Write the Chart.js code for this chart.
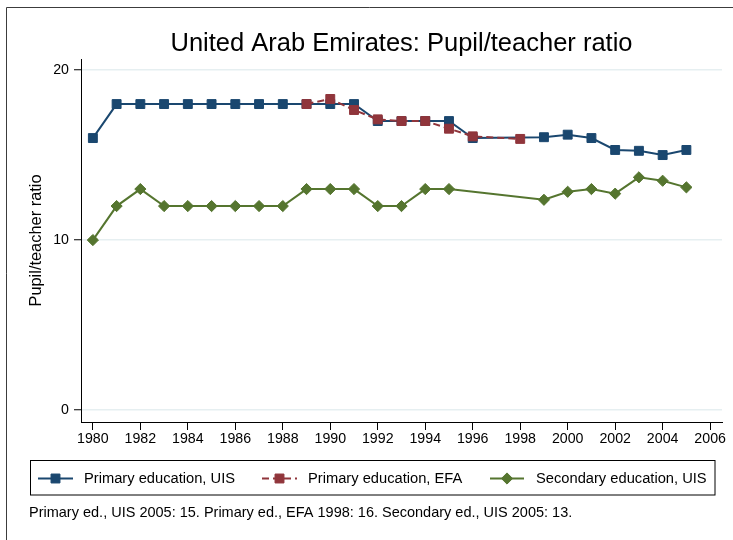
<!DOCTYPE html>
<html>
<head>
<meta charset="utf-8">
<script src="https://cdn.jsdelivr.net/npm/chart.js@4.4.0/dist/chart.umd.min.js"></script>
<style>
html,body{margin:0;padding:0;background:#fff;}
canvas{display:block;}
</style>
</head>
<body>
<canvas id="c" width="733" height="540"></canvas>
<script>
// ---- data ----
const years = [1980,1981,1982,1983,1984,1985,1986,1987,1988,1989,1990,1991,1992,1993,1994,1995,1996,1997,1998,1999,2000,2001,2002,2003,2004,2005];
const primaryUIS = [16,18,18,18,18,18,18,18,18,18,18,18,17,17,17,17,16,null,null,16.05,16.2,16.0,15.3,15.25,15.0,15.3];
const primaryEFA = [null,null,null,null,null,null,null,null,null,18.0,18.3,17.65,17.1,17.0,17.0,16.55,16.1,null,15.95,null,null,null,null,null,null,null];
const secondaryUIS = [10,12,13,12,12,12,12,12,12,13,13,13,12,12,13,13,null,null,null,12.37,12.84,13.0,12.73,13.69,13.49,13.1];
const xTickValues = [1980,1982,1984,1986,1988,1990,1992,1994,1996,1998,2000,2002,2004,2006];
const yTickValues = [0,10,20];
const seriesNames = ["Primary education, UIS","Primary education, EFA","Secondary education, UIS"];
const chartTitle = "United Arab Emirates: Pupil/teacher ratio";
const yAxisTitle = "Pupil/teacher ratio";
const noteText = "Primary ed., UIS 2005: 15. Primary ed., EFA 1998: 16. Secondary ed., UIS 2005: 13.";

// ---- styles ----
const FAMILY = '"Liberation Sans", Arial, Helvetica, sans-serif';
const BLUE = '#1a476f', RED = '#90353b', GREEN = '#55752f';
Chart.defaults.font.family = FAMILY;
Chart.defaults.color = '#000';

function pts(vals){ return years.map((x,i)=>({x:x, y:vals[i]})); }

const styles = [
  {color:BLUE, pointStyle:'rect', radius:6.3, dash:[]},
  {color:RED, pointStyle:'rect', radius:6.3, dash:[7,4]},
  {color:GREEN, pointStyle:'rectRot', radius:5.6, dash:[]}
];

function drawMarker(ctx, st, x, y){
  ctx.save();
  ctx.fillStyle = st.color; ctx.strokeStyle = st.color; ctx.lineWidth = 1; ctx.setLineDash([]);
  ctx.beginPath();
  if (st.pointStyle === 'rect'){
    const h = Math.SQRT1_2*st.radius;
    ctx.rect(x-h, y-h, 2*h, 2*h);
  } else {
    const r = st.radius;
    ctx.moveTo(x, y-r); ctx.lineTo(x+r, y); ctx.lineTo(x, y+r); ctx.lineTo(x-r, y); ctx.closePath();
  }
  ctx.fill(); ctx.stroke();
  ctx.restore();
}

const decor = {
  id:'decor',
  beforeDraw(chart){
    const ctx = chart.ctx;
    ctx.save();
    ctx.fillStyle = '#fff';
    ctx.fillRect(0,0,chart.width,chart.height);
    ctx.strokeStyle = '#3c3c3c'; ctx.lineWidth = 1;
    ctx.beginPath();
    ctx.moveTo(6.5, chart.height); ctx.lineTo(6.5, 7.5); ctx.lineTo(chart.width, 7.5);
    ctx.stroke();
    ctx.restore();
  },
  afterDraw(chart){
    const ctx = chart.ctx;
    const ca = chart.chartArea;
    ctx.save();
    // title
    ctx.fillStyle = '#000';
    ctx.font = '25.5px ' + FAMILY;
    ctx.textAlign = 'center'; ctx.textBaseline = 'middle';
    ctx.fillText(chartTitle, (ca.left+ca.right)/2, 44);
    // legend box
    ctx.strokeStyle = '#000'; ctx.lineWidth = 1;
    ctx.strokeRect(30.5, 460.5, 684.5, 34.5);
    const ly = 478.5;
    const items = [
      {x1:38, x2:73, tx:84},
      {x1:262, x2:297, tx:308},
      {x1:490, x2:524, tx:536}
    ];
    ctx.font = '14.7px ' + FAMILY;
    ctx.textAlign = 'left'; ctx.textBaseline = 'middle';
    items.forEach((it,i)=>{
      const st = styles[i];
      ctx.save();
      ctx.strokeStyle = st.color; ctx.lineWidth = 2; ctx.setLineDash(st.dash);
      ctx.beginPath(); ctx.moveTo(it.x1, ly); ctx.lineTo(it.x2, ly); ctx.stroke();
      ctx.restore();
      drawMarker(ctx, st, (it.x1+it.x2)/2, ly);
      ctx.fillStyle = '#000';
      ctx.fillText(seriesNames[i], it.tx, ly);
    });
    // note
    ctx.font = '14.5px ' + FAMILY;
    ctx.fillText(noteText, 29, 513);
    ctx.restore();
  }
};

const datasets = [primaryUIS, primaryEFA, secondaryUIS].map((vals,i)=>({
  label: seriesNames[i],
  data: pts(vals),
  borderColor: styles[i].color,
  backgroundColor: styles[i].color,
  pointBackgroundColor: styles[i].color,
  pointBorderColor: styles[i].color,
  pointBorderWidth: 1,
  pointStyle: styles[i].pointStyle,
  pointRadius: styles[i].radius,
  borderWidth: 2,
  borderDash: styles[i].dash,
  spanGaps: true,
  tension: 0,
  fill: false,
  order: [1,0,2][i]
}));

new Chart(document.getElementById('c'), {
  type: 'line',
  data: {datasets: datasets},
  options: {
    responsive: false,
    animation: false,
    devicePixelRatio: 1,
    layout: {padding: {left:0, right:11, top:59, bottom:78}},
    plugins: {legend:{display:false}, title:{display:false}, tooltip:{enabled:false}},
    scales: {
      x: {
        type: 'linear', min: 1979.5, max: 2006.5,
        afterBuildTicks: s => { s.ticks = xTickValues.map(v=>({value:v})); },
        afterFit: s => { s.height = 40; },
        grid: {drawOnChartArea:false, tickLength:8, tickColor:'#000', tickWidth:1},
        border: {color:'#000', width:1},
        ticks: {color:'#000', font:{size:14.2}, padding:1, maxRotation:0, autoSkip:false, callback: v => String(v)}
      },
      y: {
        type: 'linear', min: -0.7, max: 20.65,
        afterBuildTicks: s => { s.ticks = yTickValues.map(v=>({value:v})); },
        afterFit: s => { s.width = 81; },
        grid: {color:'#e6eff1', lineWidth:1.5, tickColor:'#000', tickLength:7, tickWidth:1},
        border: {color:'#000', width:1},
        ticks: {color:'#000', font:{size:14.2}, padding:5, callback: v => String(v)},
        title: {display:true, text:yAxisTitle, color:'#000', font:{size:16.4}, padding:{top:27, bottom:0}}
      }
    }
  },
  plugins: [decor]
});
</script>
</body>
</html>
